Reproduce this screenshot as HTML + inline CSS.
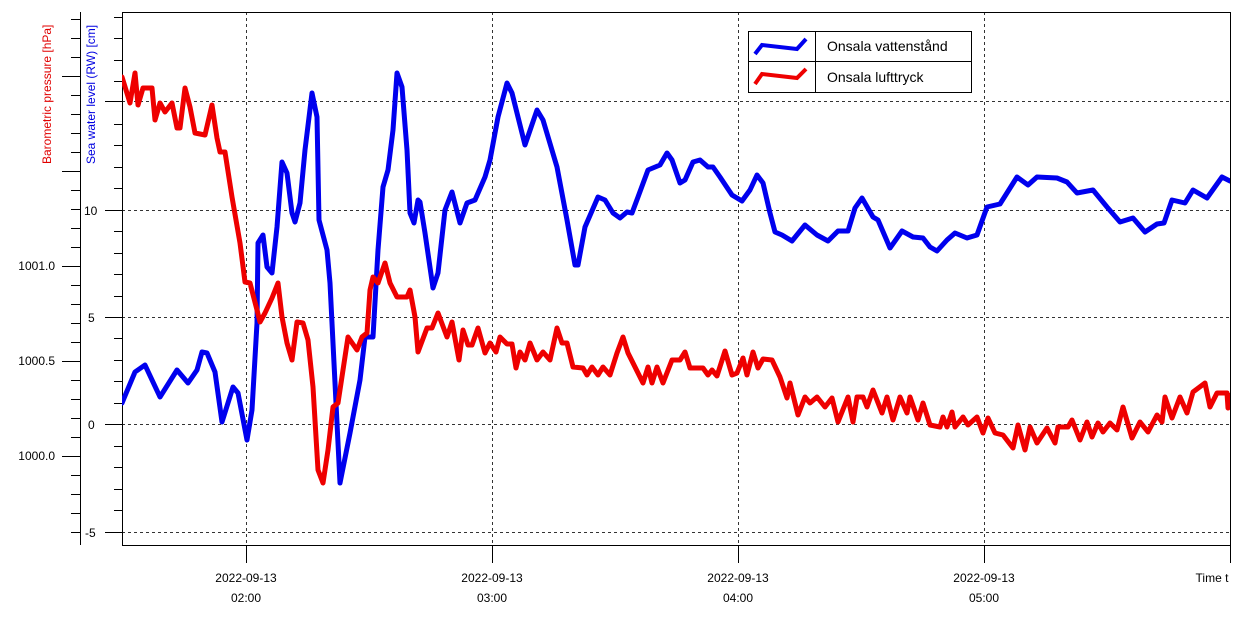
<!DOCTYPE html>
<html><head><meta charset="utf-8"><style>
html,body{margin:0;padding:0;background:#fff}
svg{display:block;font-family:"Liberation Sans",Arial,sans-serif}
</style></head><body>
<svg width="1243" height="621" viewBox="0 0 1243 621" xmlns="http://www.w3.org/2000/svg">
<defs><clipPath id="c"><rect x="122" y="12" width="1108" height="533"/></clipPath></defs>
<rect width="1243" height="621" fill="#fff"/>
<!-- grid -->
<g stroke="#333" stroke-width="1" stroke-dasharray="3,3">
<line x1="122" y1="101.5" x2="1230" y2="101.5"/>
<line x1="122" y1="210.5" x2="1230" y2="210.5"/>
<line x1="122" y1="317.5" x2="1230" y2="317.5"/>
<line x1="122" y1="424.5" x2="1230" y2="424.5"/>
<line x1="122" y1="532.5" x2="1230" y2="532.5"/>
<line x1="246.5" y1="12" x2="246.5" y2="545"/>
<line x1="492.5" y1="12" x2="492.5" y2="545"/>
<line x1="738.5" y1="12" x2="738.5" y2="545"/>
<line x1="984.5" y1="12" x2="984.5" y2="545"/>
</g>
<!-- frame -->
<rect x="122.5" y="12.5" width="1108" height="533" fill="none" stroke="#000" stroke-width="1"/>
<!-- pressure axis -->
<g stroke="#000" stroke-width="1">
<line x1="80.5" y1="12" x2="80.5" y2="545"/>
<line x1="71" y1="19.5" x2="80" y2="19.5"/><line x1="71" y1="38.5" x2="80" y2="38.5"/><line x1="71" y1="57.5" x2="80" y2="57.5"/>
<line x1="62" y1="76.5" x2="80" y2="76.5"/><line x1="71" y1="95.5" x2="80" y2="95.5"/><line x1="71" y1="114.5" x2="80" y2="114.5"/><line x1="71" y1="133.5" x2="80" y2="133.5"/><line x1="71" y1="152.5" x2="80" y2="152.5"/>
<line x1="62" y1="171.5" x2="80" y2="171.5"/><line x1="71" y1="190.5" x2="80" y2="190.5"/><line x1="71" y1="209.5" x2="80" y2="209.5"/><line x1="71" y1="228.5" x2="80" y2="228.5"/><line x1="71" y1="247.5" x2="80" y2="247.5"/>
<line x1="62" y1="266.5" x2="80" y2="266.5"/><line x1="71" y1="285.5" x2="80" y2="285.5"/><line x1="71" y1="304.5" x2="80" y2="304.5"/><line x1="71" y1="323.5" x2="80" y2="323.5"/><line x1="71" y1="342.5" x2="80" y2="342.5"/>
<line x1="62" y1="361.5" x2="80" y2="361.5"/><line x1="71" y1="380.5" x2="80" y2="380.5"/><line x1="71" y1="399.5" x2="80" y2="399.5"/><line x1="71" y1="418.5" x2="80" y2="418.5"/><line x1="71" y1="437.5" x2="80" y2="437.5"/>
<line x1="62" y1="456.5" x2="80" y2="456.5"/><line x1="71" y1="475.5" x2="80" y2="475.5"/><line x1="71" y1="494.5" x2="80" y2="494.5"/><line x1="71" y1="513.5" x2="80" y2="513.5"/><line x1="71" y1="532.5" x2="80" y2="532.5"/>
</g>
<g font-size="12" fill="#000" text-anchor="end">
<text x="55" y="270">1001.0</text><text x="55" y="365">1000.5</text><text x="55" y="460">1000.0</text>
</g>
<!-- sea level axis -->
<g stroke="#000" stroke-width="1">
<line x1="114" y1="17.5" x2="122" y2="17.5"/><line x1="114" y1="38.5" x2="122" y2="38.5"/><line x1="114" y1="60.5" x2="122" y2="60.5"/><line x1="114" y1="81.5" x2="122" y2="81.5"/>
<line x1="105" y1="101.5" x2="122" y2="101.5"/><line x1="114" y1="124.5" x2="122" y2="124.5"/><line x1="114" y1="145.5" x2="122" y2="145.5"/><line x1="114" y1="167.5" x2="122" y2="167.5"/><line x1="114" y1="188.5" x2="122" y2="188.5"/>
<line x1="105" y1="210.5" x2="122" y2="210.5"/><line x1="114" y1="231.5" x2="122" y2="231.5"/><line x1="114" y1="253.5" x2="122" y2="253.5"/><line x1="114" y1="274.5" x2="122" y2="274.5"/><line x1="114" y1="296.5" x2="122" y2="296.5"/>
<line x1="105" y1="317.5" x2="122" y2="317.5"/><line x1="114" y1="338.5" x2="122" y2="338.5"/><line x1="114" y1="360.5" x2="122" y2="360.5"/><line x1="114" y1="381.5" x2="122" y2="381.5"/><line x1="114" y1="403.5" x2="122" y2="403.5"/>
<line x1="105" y1="424.5" x2="122" y2="424.5"/><line x1="114" y1="446.5" x2="122" y2="446.5"/><line x1="114" y1="467.5" x2="122" y2="467.5"/><line x1="114" y1="489.5" x2="122" y2="489.5"/><line x1="114" y1="510.5" x2="122" y2="510.5"/>
<line x1="105" y1="532.5" x2="122" y2="532.5"/>
</g>
<g font-size="12" fill="#000">
<text x="84" y="215">10</text><text x="88" y="322">5</text><text x="88" y="429">0</text><text x="85" y="537">-5</text>
</g>
<text transform="translate(51,164) rotate(-90)" font-size="12" fill="#e00000">Barometric pressure [hPa]</text>
<text transform="translate(95,164) rotate(-90)" font-size="12" fill="#0000e0">Sea water level (RW) [cm]</text>
<!-- x axis ticks -->
<g stroke="#000" stroke-width="1">
<line x1="246.5" y1="545" x2="246.5" y2="563"/><line x1="492.5" y1="545" x2="492.5" y2="563"/><line x1="738.5" y1="545" x2="738.5" y2="563"/><line x1="984.5" y1="545" x2="984.5" y2="563"/><line x1="1230.5" y1="545" x2="1230.5" y2="563"/>
</g>
<g font-size="12" fill="#000" text-anchor="middle">
<text x="246" y="582">2022-09-13</text><text x="246" y="602">02:00</text>
<text x="492" y="582">2022-09-13</text><text x="492" y="602">03:00</text>
<text x="738" y="582">2022-09-13</text><text x="738" y="602">04:00</text>
<text x="984" y="582">2022-09-13</text><text x="984" y="602">05:00</text>
<text x="1212" y="582">Time t</text>
</g>
<g clip-path="url(#c)" fill="none" stroke-width="5" stroke-linejoin="round" stroke-linecap="round">
<polyline stroke="#0000ee" points="122,403 135,372 145,365 160,397 177,370 188,383 197,370 202,352 207,353 215,372 222,422 233,387 238,393 247,440 252,410 257,323 258,243 263,235 267,267 272,273 277,227 282,162 287,173 292,213 295,222 300,203 305,150 312,93 317,117 319,220 327,250 330,283 335,383 340,483 350,433 360,380 365,337 373,337 378,250 383,187 388,170 393,130 397,73 402,87 407,150 410,213 414,223 418,200 420,202 425,233 433,288 438,273 445,210 452,192 460,223 467,203 475,200 485,177 490,160 498,117 507,83 512,93 525,145 537,110 543,120 557,167 567,220 575,265 578,265 585,227 598,197 605,200 613,213 620,218 627,212 632,213 638,197 648,170 660,165 667,153 672,160 680,183 685,180 693,162 700,160 708,167 713,167 720,177 732,195 742,201 750,190 757,175 763,183 770,213 775,232 782,235 792,241 805,225 817,235 828,241 838,231 848,231 855,208 862,198 873,217 878,220 890,248 902,231 913,237 923,238 930,247 937,251 947,240 955,233 967,238 977,235 987,207 1000,204 1017,177 1028,185 1037,177 1057,178 1067,182 1077,193 1093,190 1107,207 1120,222 1133,218 1145,232 1157,224 1164,223 1172,200 1185,203 1193,190 1207,198 1222,177 1230,181"/>
<polyline stroke="#ee0000" points="122,77 130,103 135,73 138,105 143,88 152,88 155,120 160,103 165,112 172,103 177,128 180,128 185,88 190,107 195,133 205,135 212,105 217,138 220,152 225,152 232,197 240,243 245,282 250,283 257,310 260,322 265,313 272,298 278,283 282,317 287,343 292,360 297,322 303,323 308,340 313,387 318,470 323,483 328,450 333,407 338,403 343,370 348,337 357,350 362,337 367,333 370,290 373,277 378,283 385,263 390,283 397,297 407,297 410,290 415,317 418,352 427,328 432,328 438,313 447,337 452,322 459,360 463,330 468,345 472,345 478,328 485,353 490,343 496,352 500,337 507,344 512,344 516,368 520,352 525,360 530,343 537,360 543,352 550,360 557,328 562,343 567,343 573,367 583,368 587,375 592,367 598,375 603,367 610,375 617,353 623,337 628,353 643,383 648,367 652,383 657,367 663,383 672,360 680,360 685,352 690,368 703,368 708,375 712,370 717,376 725,351 732,375 737,373 743,358 747,375 753,352 758,368 763,359 772,360 780,377 787,398 790,383 798,415 805,397 810,403 817,397 825,407 832,398 838,422 848,397 853,422 857,397 863,397 867,407 873,390 882,413 887,397 893,420 900,397 907,413 910,397 918,420 923,403 930,425 940,427 943,417 947,427 952,412 955,427 963,417 968,425 977,417 983,433 988,418 995,433 1003,435 1013,448 1018,425 1025,450 1030,427 1037,443 1047,428 1055,443 1058,427 1068,427 1072,420 1080,440 1087,422 1092,437 1098,423 1103,432 1110,423 1117,430 1123,407 1132,438 1140,422 1148,432 1157,415 1162,422 1165,397 1172,418 1180,397 1187,413 1193,392 1205,383 1210,407 1217,393 1227,393 1228,408 1231,395"/>
</g>
<!-- legend -->
<rect x="748.5" y="31.5" width="223" height="61" fill="#fff" stroke="#000" stroke-width="1"/>
<line x1="815.5" y1="31" x2="815.5" y2="92" stroke="#000"/>
<line x1="748" y1="61.5" x2="971" y2="61.5" stroke="#000"/>
<polyline points="755,54 762,45 797,49 806,39" fill="none" stroke="#0000ee" stroke-width="4"/>
<polyline points="755,84 762,74 797,78 806,69" fill="none" stroke="#ee0000" stroke-width="4"/>
<text x="827" y="51" font-size="14" fill="#000">Onsala vattenstånd</text>
<text x="827" y="82" font-size="14" fill="#000">Onsala lufttryck</text>
</svg>
</body></html>
